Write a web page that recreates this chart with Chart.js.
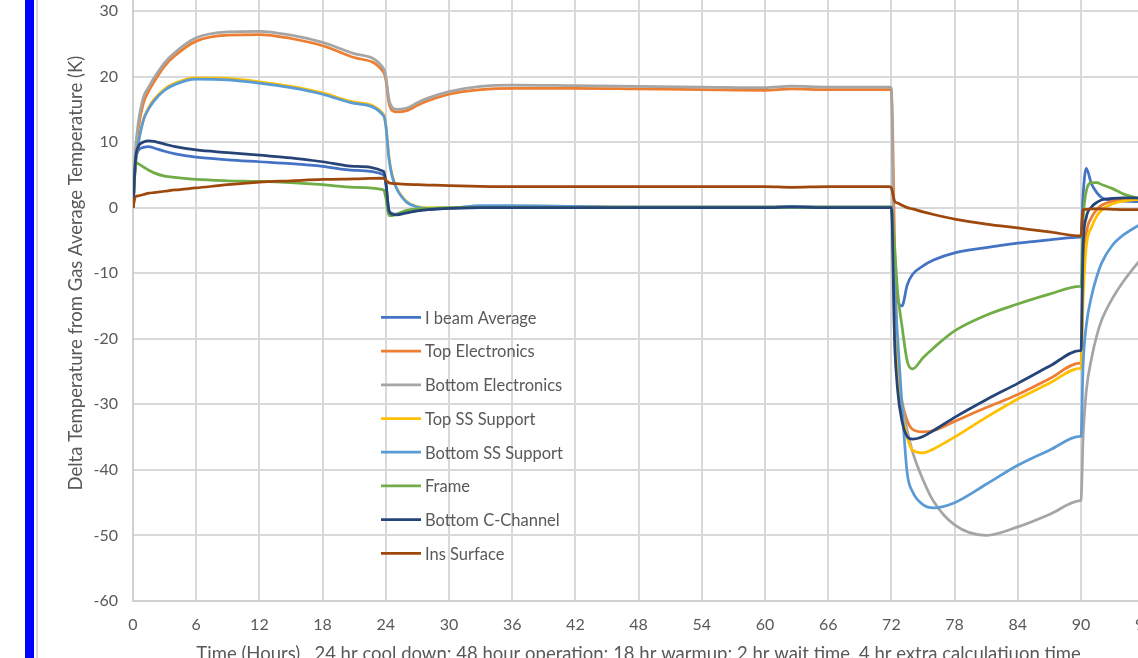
<!DOCTYPE html>
<html>
<head>
<meta charset="utf-8">
<script src="https://cdn.jsdelivr.net/npm/chart.js@4.4.1/dist/chart.umd.min.js"></script>
<style>
  html, body { margin: 0; padding: 0; background: #fff; overflow: hidden; }
  #wrap { position: relative; width: 1138px; height: 658px; overflow: hidden; }
  #graf { position: absolute; left: 0; top: -120px; }
  #barra { position: absolute; left: 25px; top: 0; width: 9px; height: 658px; background: #0000ff; z-index: 2; }
  #borda { position: absolute; left: 36px; top: 0; width: 2px; height: 658px; background: #d9d9d9; z-index: 2; }
</style>
</head>
<body>
<div id="wrap">
  <canvas id="graf" width="1170" height="791"></canvas>
  <div id="barra"></div>
  <div id="borda"></div>
</div>
<script>
// ---------------- DADOS ----------------
// tempo (horas): blocos 0-23.8 | 24-71.8 | 72-89.9 | 90-96
const horas = [
  0, 0.25, 0.5, 1, 1.5, 2, 3, 4, 6, 9, 12, 15, 18, 21, 23.8,
  24, 24.3, 24.6, 25, 26, 27, 28, 30, 33, 36, 42, 48, 54, 60, 62.5, 66, 71.8,
  72, 72.3, 72.6, 73, 73.5, 74, 75, 76, 78, 81, 84, 87, 89.9,
  90, 90.2, 90.5, 91, 91.5, 92, 93, 94, 96
];

const iBeam = [
  0, 7, 8.7, 9.2, 9.3, 9.1, 8.6, 8.2, 7.7, 7.3, 7.0, 6.7, 6.3, 5.7, 5.0,
  3.6, -0.4, -0.9, -1.0, -0.7, -0.4, -0.3, -0.1, 0, 0, 0, 0, 0, 0, 0.05, 0, 0,
  0, -8, -14, -15, -11.8, -10.2, -8.9, -8.0, -6.9, -6.1, -5.4, -4.9, -4.5,
  -4.5, 2, 6.0, 3.6, 2.3, 1.5, 1.1, 1.0, 0.9
];
const topElec = [
  0, 8, 12, 16, 17.8, 19.2, 21.6, 23.2, 25.4, 26.3, 26.4, 25.8, 24.7, 22.9, 20.6,
  19.5, 16.0, 14.8, 14.6, 14.8, 15.6, 16.3, 17.3, 18.0, 18.2, 18.2, 18.1, 18.0, 17.9, 18.1, 18.0, 18.0,
  17.8, -5, -24, -29.5, -32.5, -33.8, -34.2, -34.0, -32.6, -30.5, -28.5, -26.1, -23.7,
  -23.7, -10, -4, -1.5, -0.3, 0.4, 1.0, 1.3, 1.4
];
const bottomElec = [
  0, 9, 12.9, 16.9, 18.4, 19.8, 22.1, 23.7, 25.9, 26.8, 26.9, 26.3, 25.2, 23.5, 21.2,
  20.0, 16.5, 15.3, 15.0, 15.2, 16.0, 16.7, 17.7, 18.5, 18.7, 18.6, 18.5, 18.4, 18.3, 18.55, 18.4, 18.4,
  18.2, -20, -26, -30, -34, -37.2, -41.5, -44.8, -48.4, -50.0, -48.7, -46.8, -44.7,
  -44.6, -35, -28, -23, -19.5, -17, -13.8, -11.3, -7.2
];
const topSS = [
  0, 7, 9.8, 13.5, 15.3, 16.5, 18.1, 19.0, 19.8, 19.7, 19.2, 18.5, 17.5, 16.1, 14.2,
  12.7, 7.7, 5.0, 3.1, 0.9, 0.15, -0.05, -0.05, 0.2, 0.25, 0.2, 0.1, 0.1, 0.1, 0.2, 0.1, 0.1,
  0.1, -15, -24, -31, -35, -37, -37.4, -36.8, -35.0, -32.0, -29.2, -26.8, -24.5,
  -24.5, -14, -6, -3, -1.3, -0.3, 0.6, 1.0, 1.3
];
const bottomSS = [
  0, 7, 9.8, 13.4, 15.1, 16.3, 17.9, 18.8, 19.6, 19.5, 19.0, 18.3, 17.3, 15.9, 14.0,
  12.5, 7.5, 4.8, 3.0, 0.8, 0.1, -0.1, -0.1, 0.3, 0.3, 0.2, 0.1, 0.1, 0.1, 0.2, 0.1, 0.1,
  0.1, -12, -20, -30, -40.5, -43.3, -45.3, -45.8, -45.0, -42.2, -39.3, -37.0, -34.9,
  -34.9, -24, -18, -13.5, -10.5, -8.3, -5.7, -4.2, -2.2
];
const frame = [
  0, 6.9, 6.7, 6.2, 5.7, 5.3, 4.8, 4.6, 4.3, 4.1, 4.0, 3.8, 3.5, 3.1, 2.7,
  1.5, -1.2, -1.2, -1.0, -0.4, -0.2, -0.1, 0, 0, 0, 0, 0, 0, 0, 0.05, 0, 0,
  0, -6, -13, -18, -23.4, -24.6, -22.9, -21.4, -18.8, -16.4, -14.7, -13.2, -12.0,
  -12.0, -2, 2.5, 3.8, 3.8, 3.5, 2.9, 2.1, 1.2
];
const cChannel = [
  0, 7.5, 9.3, 10.0, 10.2, 10.1, 9.7, 9.3, 8.8, 8.4, 8.0, 7.6, 7.0, 6.3, 5.5,
  4.0, -0.5, -1.0, -1.1, -0.8, -0.5, -0.3, -0.1, 0, 0, 0, 0, 0, 0, 0.1, 0, 0,
  0, -20, -28, -32.5, -34.9, -35.3, -34.9, -34.0, -32.0, -29.3, -26.8, -24.2, -21.8,
  -21.8, -6, -1.5, 0.1, 0.8, 1.2, 1.4, 1.5, 1.5
];
const insSurface = [
  0, 1.7, 1.8, 2.0, 2.2, 2.3, 2.5, 2.7, 3.0, 3.5, 3.9, 4.1, 4.3, 4.4, 4.5,
  4.2, 3.8, 3.7, 3.65, 3.55, 3.5, 3.45, 3.35, 3.25, 3.2, 3.2, 3.2, 3.2, 3.2, 3.1, 3.2, 3.2,
  3.0, 1.0, 0.7, 0.35, 0.0, -0.2, -0.65, -1.05, -1.75, -2.5, -3.1, -3.7, -4.3,
  -4.2, -0.3, -0.25, -0.2, -0.2, -0.2, -0.25, -0.3, -0.3
];

const nomes = ["I beam Average", "Top Electronics", "Bottom Electronics", "Top SS Support",
               "Bottom SS Support", "Frame", "Bottom C-Channel", "Ins Surface"];
const series = [iBeam, topElec, bottomElec, topSS, bottomSS, frame, cChannel, insSurface];
const cores = ["#4472C4", "#ED7D31", "#A5A5A5", "#FFC000", "#5B9BD5", "#70AD47", "#264478", "#9E480E"];

const fonte = "Lato, 'Open Sans', 'DejaVu Sans', sans-serif";
const cinza = "#595959";

// ---------------- LEGENDA DENTRO DO GRAFICO ----------------
const legendaDentro = {
  id: "legendaDentro",
  afterDatasetsDraw(chart) {
    const { ctx, chartArea } = chart;
    const x0 = chartArea.left + 248;
    const y0 = chartArea.top + 372;
    ctx.save();
    ctx.font = "16.5px " + fonte;
    ctx.textBaseline = "middle";
    chart.data.datasets.forEach((ds, i) => {
      const y = y0 + i * 33.7;
      ctx.strokeStyle = ds.borderColor;
      ctx.lineWidth = 2.75;
      ctx.beginPath();
      ctx.moveTo(x0, y);
      ctx.lineTo(x0 + 40, y);
      ctx.stroke();
      ctx.fillStyle = cinza;
      ctx.fillText(ds.label, x0 + 44, y + 1);
    });
    ctx.restore();
  }
};

// ---------------- GRAFICO ----------------
const datasets = nomes.map((nome, i) => ({
  label: nome,
  data: horas.map((h, k) => ({ x: h, y: series[i][k] })),
  borderColor: cores[i],
  borderWidth: 2.75,
  pointRadius: 0,
  fill: false,
  cubicInterpolationMode: "monotone",
  order: nomes.length - i
}));

new Chart(document.getElementById("graf"), {
  type: "line",
  data: { datasets },
  options: {
    responsive: false,
    animation: false,
    devicePixelRatio: 1,
    layout: { padding: { top: 65.4, right: 25.8, left: 0, bottom: 0 } },
    plugins: { legend: { display: false }, tooltip: { enabled: false } },
    scales: {
      x: {
        type: "linear",
        min: 0,
        max: 96,
        ticks: { stepSize: 6, color: cinza, font: { size: 16, family: fonte }, padding: 14, maxRotation: 0, autoSkip: false },
        grid: { color: "#d9d9d9", lineWidth: 2, drawTicks: false },
        border: { color: "#d0d0d0", width: 2 },
        title: {
          display: true,
          text: "Time (Hours)   24 hr cool down; 48 hour operation; 18 hr warmup; 2 hr wait time, 4 hr extra calculatiuon time",
          color: cinza,
          font: { size: 18.5, family: fonte },
          padding: { top: 0, bottom: 6 }
        },
        afterFit(s) { s.height = 70; }
      },
      y: {
        min: -60,
        max: 40,
        ticks: { stepSize: 10, color: cinza, font: { size: 16, family: fonte }, padding: 15 },
        grid: { color: "#d9d9d9", lineWidth: 2, drawTicks: false },
        border: { color: "#d0d0d0", width: 2 },
        title: {
          display: true,
          text: "Delta Temperature from Gas Average Temperature (K)",
          color: cinza,
          font: { size: 18.5, family: fonte },
          padding: { top: 65, bottom: 0 }
        },
        afterFit(s) { s.width = 133; }
      }
    }
  },
  plugins: [legendaDentro]
});
</script>
</body>
</html>
